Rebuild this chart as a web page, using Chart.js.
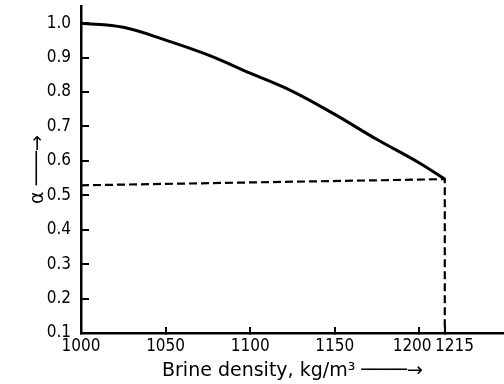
<!DOCTYPE html>
<html>
<head>
<meta charset="utf-8">
<script src="https://cdn.jsdelivr.net/npm/chart.js@4/dist/chart.umd.min.js"></script>
<style>
  body { margin: 0; background: #fff; }
  canvas { display: block; }
</style>
</head>
<body>
<canvas id="chart" width="504" height="384"></canvas>
<script>
// brine density (kg/m3) and alpha
const density = [1000, 1025, 1050, 1075, 1100, 1125, 1150, 1175, 1200, 1215];
const alpha = [1.0, 0.988, 0.951, 0.908, 0.855, 0.802, 0.735, 0.662, 0.594, 0.547];

// dashed guide lines to the end point
const guideX = [1000, 1215, 1215];
const guideY = [0.529, 0.547, 0.1];

const xTicks = [1000, 1050, 1100, 1150, 1200, 1215];
const yTicks = [0.1, 0.2, 0.3, 0.4, 0.5, 0.6, 0.7, 0.8, 0.9, 1.0];

const TICK_FONT = "'DejaVu Sans Condensed', 'DejaVu Sans', sans-serif";
const TITLE_FONT = "'DejaVu Sans', sans-serif";

Chart.defaults.color = "#000";

// 1200 and 1215 sit close together, push their labels apart a little
// (non-breaking spaces, plain ones get dropped by the canvas)
function xLabel(v) {
  if (v === 1200) return v + "\u00a0\u00a0\u00a0";
  if (v === 1215) return "\u00a0\u00a0\u00a0\u00a0" + v;
  return "" + v;
}

new Chart(document.getElementById("chart"), {
  type: "line",
  data: {
    datasets: [
      {
        data: density.map((d, i) => ({ x: d, y: alpha[i] })),
        borderColor: "#000",
        borderWidth: 3,
        pointRadius: 0,
        tension: 0.35
      },
      {
        data: guideX.map((d, i) => ({ x: d, y: guideY[i] })),
        borderColor: "#000",
        borderWidth: 2.2,
        borderDash: [8, 4],
        pointRadius: 0,
        tension: 0
      }
    ]
  },
  options: {
    responsive: false,
    animation: false,
    layout: { padding: { top: 6, right: 0, bottom: 1, left: 0 } },
    plugins: { legend: { display: false }, tooltip: { enabled: false } },
    scales: {
      x: {
        type: "linear",
        min: 1000,
        max: 1250,
        afterBuildTicks: s => { s.ticks = xTicks.map(v => ({ value: v })); },
        afterFit: s => { s.height = 50; s.paddingLeft = 0; s.paddingRight = 0; },
        ticks: {
          autoSkip: false,
          maxRotation: 0,
          padding: 9,
          font: { family: TICK_FONT, size: 17 },
          callback: xLabel
        },
        grid: { drawOnChartArea: false, drawTicks: true, tickLength: -6, color: "#000", lineWidth: 2 },
        border: { display: true, color: "#000", width: 2.5 },
        title: {
          display: true,
          text: "Brine density, kg/m\u00b3 \u2500\u2500\u2500\u2500\u2192",
          font: { family: TITLE_FONT, size: 19 },
          padding: { top: 0, bottom: 1 }
        }
      },
      y: {
        type: "linear",
        min: 0.1,
        max: 1.05,
        afterBuildTicks: s => { s.ticks = yTicks.map(v => ({ value: v })); },
        afterFit: s => { s.width = 81; s.paddingTop = 0; s.paddingBottom = 0; },
        ticks: {
          padding: 18,
          font: { family: TICK_FONT, size: 17 },
          callback: v => v.toFixed(1)
        },
        grid: { drawOnChartArea: false, drawTicks: true, tickLength: -8, color: "#000", lineWidth: 2 },
        border: { display: true, color: "#000", width: 2.5 },
        title: {
          display: true,
          text: "\u03b1 \u2500\u2500\u2500\u2192",
          font: { family: TITLE_FONT, size: 19 },
          padding: { top: 27, bottom: 0 }
        }
      }
    }
  }
});
</script>
</body>
</html>
